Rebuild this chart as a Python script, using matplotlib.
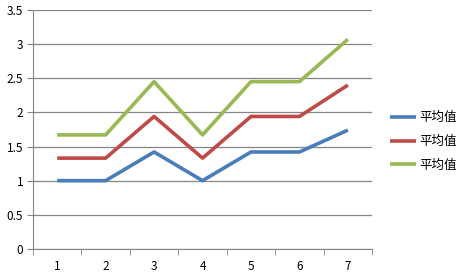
import matplotlib
matplotlib.use("Agg")
import matplotlib.pyplot as plt
import numpy as np

plt.rcParams['font.family'] = ['Noto Sans CJK SC', 'DejaVu Sans']

categories = [1, 2, 3, 4, 5, 6, 7]
series_names = ["平均值", "平均值", "平均值"]
blue_values = [1.0, 1.0, 1.42, 1.0, 1.42, 1.42, 1.74]
red_values = [1.33, 1.33, 1.94, 1.33, 1.94, 1.94, 2.40]
green_values = [1.67, 1.67, 2.45, 1.67, 2.45, 2.45, 3.07]
colors = ["#4a7ebb", "#be4b48", "#98b954"]

fig = plt.figure(figsize=(4.64, 2.76), dpi=100)
ax = fig.add_axes([0.071, 0.098, 0.731, 0.866])

for vals, name, c in zip([blue_values, red_values, green_values], series_names, colors):
    ax.plot(categories, vals, color=c, linewidth=2.6, label=name, solid_capstyle="butt")

ax.set_xlim(0.5, 7.5)
ax.set_ylim(0, 3.5)
ax.set_yticks(np.arange(0, 3.51, 0.5))
ax.set_yticklabels(["0", "0.5", "1", "1.5", "2", "2.5", "3", "3.5"])
ax.set_xticks(categories)
ax.set_xticks(np.arange(0.5, 7.6, 1), minor=True)
ax.tick_params(axis="x", which="major", length=0, pad=8, labelsize=8.5)
ax.tick_params(axis="x", which="minor", length=4, color="#868686", direction="out")
ax.tick_params(axis="y", length=4, color="#868686", labelsize=8.5, pad=3)
ax.yaxis.grid(True, color="#868686", linewidth=0.9)
ax.set_axisbelow(True)
for s in ["top", "right"]:
    ax.spines[s].set_visible(False)
for s in ["left", "bottom"]:
    ax.spines[s].set_color("#868686")

ax.legend(loc="center left", bbox_to_anchor=(1.02, 0.45), frameon=False,
          fontsize=9, handlelength=2.1, labelspacing=0.85, handletextpad=0.25)

fig.savefig("out.png", dpi=100)
